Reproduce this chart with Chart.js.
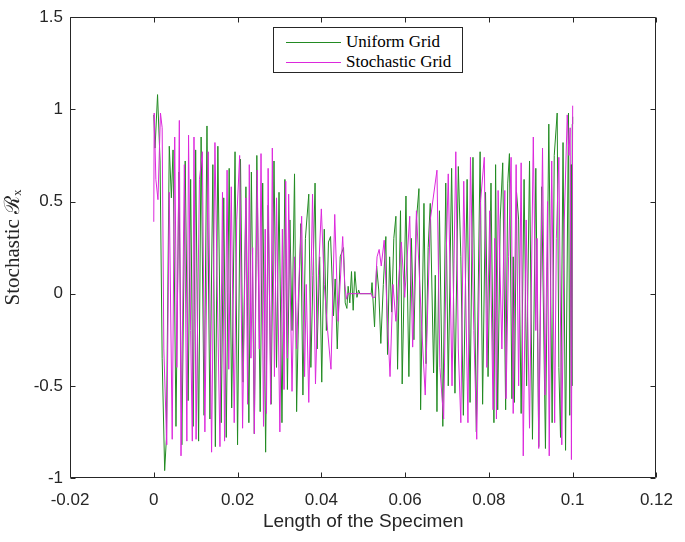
<!DOCTYPE html>
<html>
<head>
<meta charset="utf-8">
<script src="https://cdn.jsdelivr.net/npm/chart.js@4.4.1/dist/chart.umd.min.js"></script>
<style>
  html, body { margin: 0; padding: 0; background: #fff; }
  #wrap { position: relative; width: 685px; height: 542px; }
  #legend { position: absolute; left: 273px; top: 27px; width: 190px; height: 46px;
    border: 1px solid #262626; background: #fff; font-family: 'Liberation Serif', 'DejaVu Serif', serif;
    font-size: 17px; color: #000; box-sizing: border-box; }
  .row { position: absolute; left: 0; height: 20px; width: 100%; }
  .row .ln { position: absolute; left: 12px; width: 55px; top: 10px; height: 1px; }
  .row .tx { position: absolute; left: 72px; top: 0; line-height: 20px; white-space: nowrap; }
</style>
</head>
<body>
<div id="wrap">
  <canvas id="c" width="685" height="542"></canvas>
  <div id="legend">
    <div class="row" style="top:4px"><div class="ln" style="background:rgb(34,139,34)"></div><div class="tx">Uniform Grid</div></div>
    <div class="row" style="top:24px"><div class="ln" style="background:rgb(220,40,220)"></div><div class="tx">Stochastic Grid</div></div>
  </div>
</div>
<script>
// ---- data ----
const seriesNames = ['Uniform Grid', 'Stochastic Grid'];

const xU = [0.0000,0.0003,0.0009,0.0015,0.0020,0.0026,0.0030,0.0037,0.0042,0.0046,0.0053,0.0060,0.0067,0.0075,0.0082,0.0088,0.0094,0.0100,0.0107,0.0113,
0.0120,0.0127,0.0134,0.0141,0.0147,0.0153,0.0161,0.0167,0.0173,0.0180,0.0186,0.0194,0.0200,0.0207,0.0213,0.0220,0.0227,0.0233,0.0240,0.0246,
0.0254,0.0260,0.0267,0.0273,0.0280,0.0287,0.0293,0.0299,0.0306,0.0313,0.0319,0.0325,0.0330,0.0336,0.0341,0.0346,0.0351,0.0356,0.0362,0.0370,
0.0375,0.0380,0.0385,0.0390,0.0396,0.0401,0.0407,0.0412,0.0417,0.0422,0.0429,0.0433,0.0438,0.0445,0.0453,0.0457,0.0461,0.0464,0.0468,0.0472,
0.0476,0.0480,0.0485,0.0489,0.0492,0.0519,0.0521,0.0527,0.0532,0.0537,0.0542,0.0548,0.0554,0.0558,0.0563,0.0568,0.0573,0.0578,0.0582,0.0589,
0.0593,0.0602,0.0609,0.0615,0.0621,0.0627,0.0633,0.0637,0.0645,0.0650,0.0655,0.0660,0.0668,0.0672,0.0676,0.0682,0.0690,0.0697,0.0703,0.0711,
0.0719,0.0727,0.0733,0.0739,0.0748,0.0755,0.0762,0.0770,0.0779,0.0785,0.0792,0.0798,0.0805,0.0812,0.0816,0.0821,0.0827,0.0833,0.0840,0.0845,
0.0849,0.0855,0.0858,0.0861,0.0866,0.0871,0.0877,0.0884,0.0890,0.0897,0.0904,0.0912,0.0919,0.0926,0.0935,0.0943,0.0951,0.0956,0.0963,0.0967,
0.0971,0.0977,0.0983,0.0990,0.0993,0.0996,0.0998,0.0999,0.1000];
const yU = [0.97,0.79,1.08,0.72,-0.35,-0.96,-0.79,0.80,0.52,0.78,-0.72,0.66,-0.82,0.72,-0.58,0.62,-0.72,0.78,-0.80,0.85,
-0.66,0.91,-0.68,0.70,-0.83,0.80,-0.70,0.52,-0.78,0.68,-0.62,0.77,-0.82,0.73,-0.48,0.58,-0.70,0.66,-0.76,0.75,
-0.64,0.60,-0.86,0.48,-0.60,0.72,-0.40,0.55,-0.70,0.62,-0.52,0.40,-0.20,0.65,-0.64,-0.05,0.38,-0.55,0.30,0.54,
-0.40,0.10,0.60,-0.30,0.20,-0.48,0.35,-0.20,0.28,0.31,-0.12,0.08,-0.30,0.20,0.25,-0.05,-0.08,0.04,-0.05,0.12,
-0.09,0.12,-0.02,0.02,0.00,0.00,0.06,-0.18,0.15,0.02,-0.27,0.05,0.31,-0.33,0.20,-0.10,0.30,0.42,-0.41,0.45,
-0.49,0.53,-0.45,0.30,-0.25,0.40,0.57,-0.63,0.49,-0.38,0.25,0.49,-0.43,0.10,-0.64,0.45,-0.72,0.60,-0.50,0.68,
-0.54,0.69,0.20,-0.66,0.62,-0.59,0.74,-0.75,0.77,-0.60,0.55,-0.45,0.60,-0.70,0.70,-0.63,0.40,0.71,-0.63,0.60,
0.76,-0.57,0.20,-0.59,0.55,0.40,-0.65,0.62,-0.50,0.72,-0.79,0.68,-0.83,0.58,-0.84,0.92,-0.70,0.75,0.98,-0.40,
-0.78,0.82,-0.85,0.98,-0.66,0.70,-0.50,0.92,0.96];

const xS = [0.0000,0.0001,0.0005,0.0010,0.0016,0.0020,0.0024,0.0031,0.0037,0.0044,0.0050,0.0055,0.0061,0.0065,0.0073,0.0079,0.0083,0.0088,0.0092,0.0096,
0.0101,0.0109,0.0116,0.0122,0.0130,0.0138,0.0146,0.0151,0.0158,0.0164,0.0169,0.0175,0.0179,0.0185,0.0192,0.0198,0.0205,0.0212,0.0220,0.0224,
0.0228,0.0232,0.0236,0.0240,0.0247,0.0252,0.0256,0.0262,0.0266,0.0269,0.0273,0.0279,0.0283,0.0288,0.0293,0.0301,0.0307,0.0311,0.0315,0.0319,
0.0322,0.0330,0.0336,0.0341,0.0347,0.0353,0.0360,0.0364,0.0370,0.0379,0.0386,0.0393,0.0400,0.0407,0.0415,0.0423,0.0432,0.0440,0.0451,0.0456,
0.0460,0.0463,0.0519,0.0522,0.0528,0.0533,0.0538,0.0543,0.0550,0.0557,0.0564,0.0571,0.0578,0.0591,0.0599,0.0611,0.0618,0.0627,0.0640,0.0648,
0.0660,0.0676,0.0683,0.0692,0.0698,0.0703,0.0712,0.0721,0.0727,0.0733,0.0740,0.0750,0.0756,0.0764,0.0771,0.0780,0.0789,0.0795,0.0802,0.0810,
0.0814,0.0818,0.0822,0.0831,0.0838,0.0841,0.0847,0.0853,0.0858,0.0865,0.0871,0.0877,0.0882,0.0889,0.0897,0.0906,0.0912,0.0915,0.0919,0.0928,
0.0934,0.0940,0.0944,0.0950,0.0957,0.0961,0.0967,0.0974,0.0980,0.0987,0.0991,0.0994,0.0997,0.1000];
const yS = [0.39,0.98,0.62,0.51,0.98,0.90,-0.30,-0.82,0.55,-0.79,0.85,-0.40,0.94,-0.88,0.70,-0.80,0.86,-0.20,-0.80,0.85,
-0.79,0.62,0.77,-0.75,0.77,-0.86,0.82,0.10,-0.83,0.55,-0.80,0.67,-0.41,0.58,-0.70,0.40,0.75,-0.73,0.52,-0.60,
0.70,-0.35,0.25,-0.76,0.67,-0.30,0.76,-0.72,0.35,-0.65,0.68,-0.60,0.79,-0.45,0.52,-0.75,0.35,-0.52,0.61,-0.35,
0.54,-0.53,0.20,-0.30,0.10,0.42,-0.45,0.05,-0.59,0.54,-0.49,0.10,0.46,0.05,-0.20,-0.41,0.43,-0.15,0.31,0.05,
-0.03,0.00,0.00,-0.02,-0.02,0.20,0.24,0.15,0.29,-0.10,-0.45,0.05,-0.15,0.28,-0.02,0.42,-0.29,0.45,-0.20,-0.55,
0.40,0.67,-0.40,-0.68,0.20,0.65,-0.50,0.77,-0.30,-0.70,0.61,-0.70,0.74,-0.20,-0.79,0.50,0.74,-0.40,0.45,-0.63,
0.30,-0.68,0.56,-0.30,0.56,-0.57,0.20,0.74,-0.65,0.70,-0.50,0.71,-0.88,0.40,-0.73,0.85,-0.20,0.30,-0.84,0.79,
-0.55,0.50,-0.88,0.72,-0.70,0.30,0.74,-0.82,0.40,0.97,0.75,0.90,-0.90,1.02];

const xTicks = [-0.02, 0, 0.02, 0.04, 0.06, 0.08, 0.1, 0.12];
const xTickLabels = ['-0.02', '0', '0.02', '0.04', '0.06', '0.08', '0.1', '0.12'];
const yTicks = [-1, -0.5, 0, 0.5, 1, 1.5];
const yTickLabels = ['-1', '-0.5', '0', '0.5', '1', '1.5'];
const xTitle = 'Length of the Specimen';
const yTitle = 'Stochastic \u211B\u2093';

// ---- chart ----
const axisColor = '#262626';
const toPts = (xs, ys) => xs.map((x, i) => ({ x: x, y: ys[i] }));

const boxPlugin = {
  id: 'matlabBox',
  afterDatasetsDraw(chart) {
    const ctx = chart.ctx;
    const a = chart.chartArea;
    const L = Math.round(a.left) + 0.5, R = Math.round(a.right) - 0.5;
    const T = Math.round(a.top) + 0.5, B = Math.round(a.bottom) - 0.5;
    ctx.save();
    ctx.strokeStyle = axisColor;
    ctx.lineWidth = 1;
    ctx.beginPath();
    ctx.rect(L, T, R - L, B - T);
    const tl = 5;
    xTicks.forEach(v => {
      const p = Math.round(chart.scales.x.getPixelForValue(v)) + 0.5;
      ctx.moveTo(p, B); ctx.lineTo(p, B - tl);
      ctx.moveTo(p, T); ctx.lineTo(p, T + tl);
    });
    yTicks.forEach(v => {
      const p = Math.round(chart.scales.y.getPixelForValue(v)) + 0.5;
      ctx.moveTo(L, p); ctx.lineTo(L + tl, p);
      ctx.moveTo(R, p); ctx.lineTo(R - tl, p);
    });
    ctx.stroke();
    ctx.restore();
  }
};

new Chart(document.getElementById('c'), {
  type: 'scatter',
  data: {
    datasets: [
      { label: seriesNames[0], data: toPts(xU, yU), showLine: true, borderColor: 'rgb(34,139,34)',
        borderWidth: 1, pointRadius: 0, tension: 0, order: 2 },
      { label: seriesNames[1], data: toPts(xS, yS), showLine: true, borderColor: 'rgb(220,40,220)',
        borderWidth: 1, pointRadius: 0, tension: 0, order: 1 }
    ]
  },
  options: {
    responsive: false,
    animation: false,
    devicePixelRatio: 1,
    layout: { padding: { left: 0, right: 21, top: 10, bottom: 0 } },
    plugins: { legend: { display: false }, tooltip: { enabled: false } },
    scales: {
      x: {
        type: 'linear', min: -0.02, max: 0.12,
        afterBuildTicks: s => { s.ticks = xTicks.map(v => ({ value: v })); },
        afterFit: s => { s.height = 64; },
        ticks: { callback: (v, i) => xTickLabels[i], autoSkip: false, maxRotation: 0, padding: 12,
          color: axisColor, font: { family: "'Liberation Sans', Arial, sans-serif", size: 17 } },
        grid: { display: false, drawTicks: false },
        border: { display: false },
        title: { display: true, text: xTitle, color: axisColor, padding: { top: 0, bottom: 9 },
          font: { family: "'Liberation Sans', Arial, sans-serif", size: 19 } }
      },
      y: {
        type: 'linear', min: -1, max: 1.5,
        afterBuildTicks: s => { s.ticks = yTicks.map(v => ({ value: v })); },
        afterFit: s => { s.width = 70; },
        ticks: { callback: (v, i) => yTickLabels[i], autoSkip: false, padding: 7,
          color: axisColor, font: { family: "'Liberation Sans', Arial, sans-serif", size: 17 } },
        grid: { display: false, drawTicks: false },
        border: { display: false },
        title: { display: true, text: yTitle, color: axisColor, padding: { top: 1, bottom: 0 },
          font: { family: "'Liberation Serif', 'DejaVu Serif', serif", size: 21 } }
      }
    }
  },
  plugins: [boxPlugin]
});
</script>
</body>
</html>
